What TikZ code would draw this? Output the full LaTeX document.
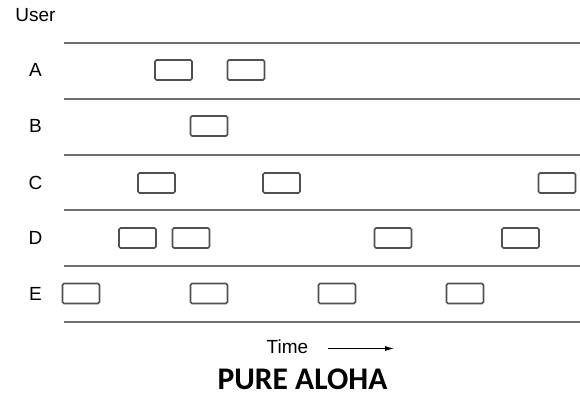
\documentclass[tikz,border=0pt]{standalone}
\usepackage{fontspec}
\setmainfont{Liberation Sans}
\newfontfamily\titlefont{Carlito}
\usetikzlibrary{arrows.meta}
\definecolor{linegray}{HTML}{707070}
\definecolor{boxgray}{HTML}{505050}
\tikzset{
  lbl/.style={font=\fontsize{19}{22}\selectfont, text=black, inner sep=0pt},
  sepline/.style={draw=linegray, line width=1.8pt},
  frame/.style={draw=boxgray, line width=1.6pt, rounded corners=1.5pt, minimum width=37pt, minimum height=20pt, inner sep=0pt},
}
\begin{document}
\begin{tikzpicture}[x=1pt,y=-1pt]
\useasboundingbox (0,0) rectangle (580,394);
% labels
\node[lbl] (user) at (35.5,15) {User};
\node[lbl] (la) at (35.5,70) {A};
\node[lbl] (lb) at (35.5,126) {B};
\node[lbl] (lc) at (35.5,183) {C};
\node[lbl] (ld) at (35.5,238) {D};
\node[lbl] (le) at (35.5,293.5) {E};
% separator lines
\foreach \yy/\nm in {43/s1,99/s2,155/s3,210/s4,266/s5,322/s6}{
  \coordinate (\nm l) at (64,\yy);
  \coordinate (\nm r) at (580,\yy);
  \draw[sepline] (\nm l) -- (\nm r);
}
% frames
\node[frame] (a1) at (173.5,70) {};
\node[frame] (a2) at (246,70) {};
\node[frame] (b1) at (209,126) {};
\node[frame] (c1) at (156.5,183) {};
\node[frame] (c2) at (281.5,183) {};
\node[frame] (c3) at (557,183) {};
\node[frame] (d1) at (137.5,238) {};
\node[frame] (d2) at (191,238) {};
\node[frame] (d3) at (393,238) {};
\node[frame] (d4) at (520.5,238) {};
\node[frame] (e1) at (81,293.5) {};
\node[frame] (e2) at (209,293.5) {};
\node[frame] (e3) at (337,293.5) {};
\node[frame] (e4) at (465,293.5) {};
% time axis
\node[lbl, anchor=base] (time) at (287.5,353) {Time};
\coordinate (ts) at (328,348.5);
\coordinate (te) at (394,348.5);
\draw[line width=1pt, black, -{Latex[length=9pt,width=5pt]}] (ts) -- (te);
% title
\node[anchor=base, inner sep=0pt, font=\titlefont\bfseries\fontsize{31.5}{34}\selectfont] (title) at (302.5,389) {PURE ALOHA};
\end{tikzpicture}
\end{document}
